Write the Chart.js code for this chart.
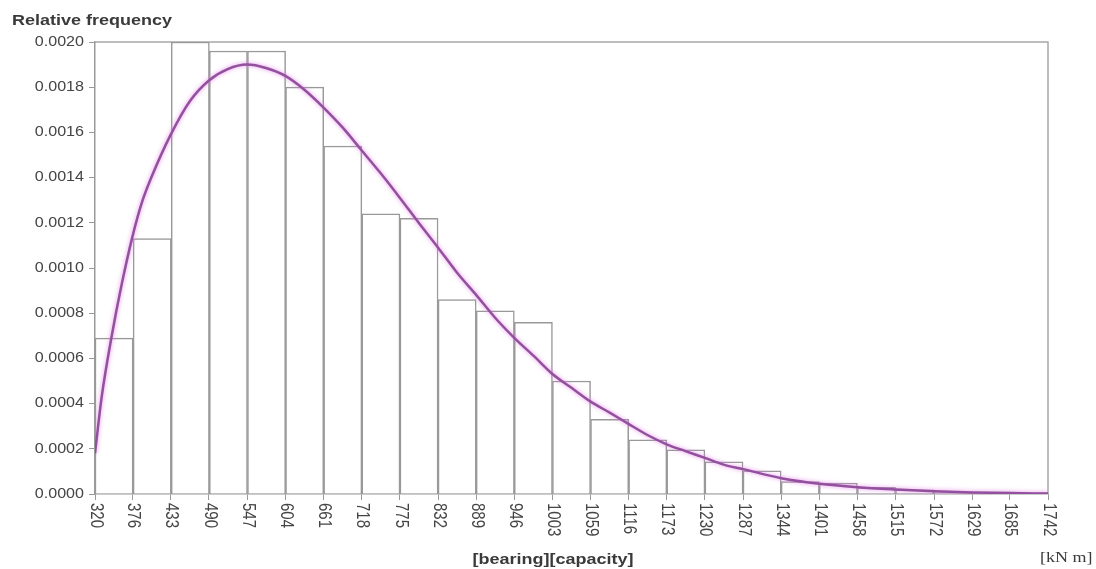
<!DOCTYPE html>
<html>
<head>
<meta charset="utf-8">
<script src="https://cdn.jsdelivr.net/npm/chart.js@4.4.1/dist/chart.umd.min.js"></script>
<style>
  html, body { margin: 0; padding: 0; background: #ffffff; }
  canvas { display: block; }
</style>
</head>
<body>
<canvas id="chart" width="1096" height="569"></canvas>
<script>
// Class edges of the bearing-capacity histogram [kN m]
const binEdges = [320, 376, 433, 490, 547, 604, 661, 718, 775, 832, 889, 946, 1003,
                  1059, 1116, 1173, 1230, 1287, 1344, 1401, 1458, 1515, 1572, 1629, 1685, 1742];

// Relative frequency of each class (one value per interval between edges)
const binFrequency = [0.00069, 0.00113, 0.00200, 0.00196, 0.00196, 0.00180, 0.00154,
                      0.00124, 0.00122, 0.00086, 0.00081, 0.00076, 0.00050, 0.00033,
                      0.00024, 0.000195, 0.000142, 0.000103, 0.000055, 0.000048,
                      0.000030, 0.000018, 0.000010, 0.000008, 0.000005];

// Fitted probability density curve
const curveX = [320, 330, 345, 360, 376, 390, 404, 433, 462, 490, 518, 547, 575, 604,
                632, 661, 690, 718, 746, 775, 803, 832, 860, 889, 917, 946, 975, 1003,
                1031, 1059, 1088, 1116, 1145, 1173, 1201, 1230, 1258, 1287, 1344, 1401,
                1458, 1515, 1572, 1629, 1685, 1742];
const curveY = [0.00018, 0.00043, 0.00070, 0.00093, 0.00114, 0.00129, 0.00140, 0.00159,
                0.00174, 0.00183, 0.00188, 0.00190, 0.001885, 0.00185, 0.00179, 0.00171,
                0.00162, 0.00152, 0.00142, 0.00131, 0.00120, 0.00109, 0.00098, 0.00088,
                0.00078, 0.00069, 0.00061, 0.00053, 0.00047, 0.00041, 0.00036, 0.00031,
                0.00026, 0.00022, 0.00019, 0.00016, 0.00013, 0.00011, 0.00007, 0.000045,
                0.00003, 0.00002, 0.000012, 0.000007, 0.000004, 0.000002];

// Value-axis ticks
const yTicks = [0, 0.0002, 0.0004, 0.0006, 0.0008, 0.0010, 0.0012, 0.0014, 0.0016, 0.0018, 0.0020];

const yTitle = 'Relative frequency';
const xTitle = '[bearing][capacity]';
const xUnit = '[kN m]';

const binLabels = binFrequency.map((_, i) => binEdges[i] + '–' + binEdges[i + 1]);

const axisColor = '#9a9a9a';
const textColor = '#454545';

// Draws text with an optional rotation and a stretch of the glyph width
function putText(ctx, txt, x, y, o) {
  ctx.save();
  ctx.translate(x, y);
  if (o.rotate) ctx.rotate(o.rotate);
  ctx.scale(o.sx || 1, o.sy || 1);
  ctx.font = o.font;
  ctx.fillStyle = o.color || textColor;
  ctx.textAlign = o.align || 'left';
  ctx.textBaseline = o.baseline || 'alphabetic';
  ctx.fillText(txt, 0, 0);
  ctx.restore();
}

const framePlugin = {
  id: 'frame',
  beforeDatasetsDraw(chart) {
    const { ctx, chartArea: a } = chart;
    ctx.save();
    ctx.strokeStyle = '#a8a8a8';
    ctx.lineWidth = 1.5;
    ctx.beginPath();
    ctx.moveTo(a.left, a.top);
    ctx.lineTo(a.right, a.top);
    ctx.lineTo(a.right, a.bottom);
    ctx.stroke();
    ctx.restore();
  }
};

const glowPlugin = {
  id: 'glow',
  beforeDatasetDraw(chart, args) {
    if (args.index !== 1) return;
    chart.ctx.save();
    chart.ctx.shadowColor = 'rgba(225, 120, 230, 0.85)';
    chart.ctx.shadowBlur = 4;
  },
  afterDatasetDraw(chart, args) {
    if (args.index !== 1) return;
    chart.ctx.restore();
  }
};

const labelPlugin = {
  id: 'labels',
  afterDraw(chart) {
    const ctx = chart.ctx;
    const xs = chart.scales.x;
    const ys = chart.scales.y;
    ys.ticks.forEach(t => {
      putText(ctx, t.value.toFixed(4), 84, ys.getPixelForValue(t.value), {
        font: '14px "Liberation Sans", Arial, sans-serif', sx: 1.15,
        align: 'right', baseline: 'middle'
      });
    });
    xs.ticks.forEach(t => {
      putText(ctx, String(t.value), xs.getPixelForValue(t.value) + 0.5, 503, {
        font: '15px "Liberation Sans", Arial, sans-serif', rotate: Math.PI / 2, sy: 1.18,
        align: 'left', baseline: 'middle'
      });
    });
    putText(ctx, yTitle, 12, 25, {
      font: 'bold 15px "Liberation Sans", Arial, sans-serif', sx: 1.2, color: '#3a3a3a'
    });
    putText(ctx, xTitle, 553, 564, {
      font: 'bold 15px "Liberation Sans", Arial, sans-serif', sx: 1.2, align: 'center', color: '#3a3a3a'
    });
    putText(ctx, xUnit, 1040, 562, {
      font: '15px "Liberation Serif", "Times New Roman", serif', sx: 1.2, color: '#3a3a3a'
    });
  }
};

new Chart(document.getElementById('chart'), {
  type: 'bar',
  data: {
    labels: binLabels,
    datasets: [
      {
        type: 'bar',
        data: binFrequency,
        xAxisID: 'xb',
        yAxisID: 'y',
        backgroundColor: '#ffffff',
        borderColor: '#999999',
        borderWidth: 1.5,
        barPercentage: 1,
        categoryPercentage: 1,
        grouped: false,
        order: 2
      },
      {
        type: 'line',
        data: curveX.map((x, i) => ({ x: x, y: curveY[i] })),
        xAxisID: 'x',
        yAxisID: 'y',
        borderColor: '#93509e',
        borderWidth: 2.5,
        pointRadius: 0,
        fill: false,
        cubicInterpolationMode: 'monotone',
        order: 1
      }
    ]
  },
  options: {
    responsive: false,
    animation: false,
    layout: { padding: { left: 0, top: 42, right: 48, bottom: 0 } },
    plugins: { legend: { display: false }, tooltip: { enabled: false }, title: { display: false } },
    scales: {
      xb: {
        type: 'category',
        display: false,
        offset: true,
        grid: { offset: true }
      },
      x: {
        type: 'linear',
        position: 'bottom',
        min: 320,
        max: 1742,
        offset: false,
        afterBuildTicks: s => { s.ticks = binEdges.map(v => ({ value: v })); },
        ticks: { color: 'transparent', autoSkip: false, maxRotation: 0, minRotation: 0 },
        grid: { offset: false, drawOnChartArea: false, drawTicks: true, tickLength: 6, color: axisColor, lineWidth: 1 },
        border: { display: true, color: axisColor, width: 1.5 },
        afterFit: s => { s.height = 75; }
      },
      y: {
        type: 'linear',
        min: 0,
        max: 0.002,
        afterBuildTicks: s => { s.ticks = yTicks.map(v => ({ value: v })); },
        ticks: { color: 'transparent' },
        grid: { drawOnChartArea: false, drawTicks: true, tickLength: 6, color: axisColor, lineWidth: 1 },
        border: { display: true, color: axisColor, width: 1.5 },
        afterFit: s => { s.width = 95; }
      }
    }
  },
  plugins: [framePlugin, glowPlugin, labelPlugin]
});
</script>
</body>
</html>
